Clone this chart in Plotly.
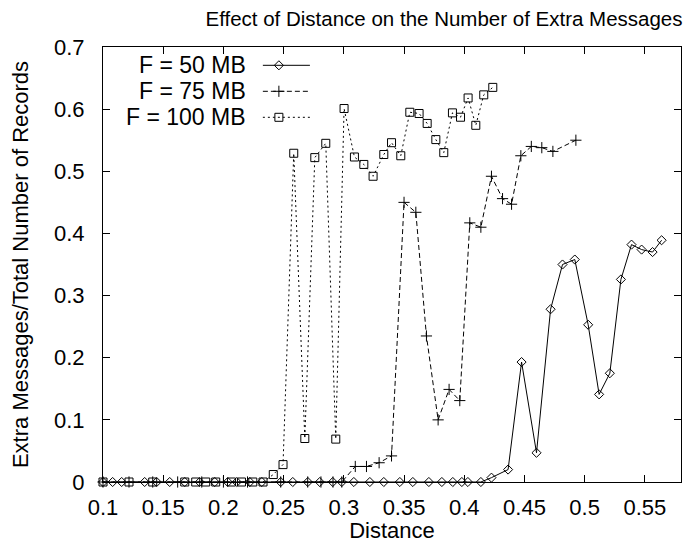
import plotly.graph_objects as go

# ---------------- data ----------------
x_50 = [0.1, 0.108, 0.1155, 0.1346, 0.1446, 0.1554, 0.1679, 0.1803, 0.1928, 0.2036, 0.2111,
        0.2219, 0.2319, 0.2476, 0.2576, 0.2701, 0.2800, 0.2908, 0.2983, 0.3083, 0.3216,
        0.3332, 0.3465, 0.3573, 0.3706, 0.3814, 0.3905, 0.3980, 0.4030, 0.4138, 0.4226,
        0.4364, 0.4476, 0.4600, 0.4717, 0.4816, 0.4918, 0.5029, 0.5120, 0.5209, 0.5301,
        0.5389, 0.5473, 0.5564, 0.5639]
y_50 = [0, 0, 0, 0, 0, 0, 0, 0, 0, 0, 0,
        0, 0, 0, 0, 0, 0, 0, 0, 0, 0,
        0, 0, 0, 0, 0, 0, 0, 0, 0, 0.007,
        0.020, 0.193, 0.047, 0.278, 0.350, 0.358, 0.253, 0.141, 0.175, 0.326,
        0.382, 0.374, 0.370, 0.389]

x_75 = [0.1, 0.1216, 0.1413, 0.162, 0.182, 0.2, 0.22, 0.2476, 0.27, 0.281, 0.291, 0.2983,
        0.3095, 0.3188, 0.3293, 0.3396, 0.3500, 0.3598, 0.3686, 0.3783, 0.3874, 0.3963,
        0.4046, 0.4138, 0.4226, 0.4318, 0.4393, 0.4470, 0.4557, 0.4644, 0.4736, 0.4927]
y_75 = [0, 0, 0, 0, 0, 0, 0, 0, 0, 0, 0, 0,
        0.025, 0.025, 0.031, 0.042, 0.450, 0.434, 0.235, 0.100, 0.149, 0.131,
        0.417, 0.410, 0.492, 0.456, 0.447, 0.525, 0.540, 0.538, 0.532, 0.550]

x_100 = [0.1, 0.1216, 0.1413, 0.1679, 0.1770, 0.1853, 0.1936, 0.2067, 0.2150, 0.2244,
         0.2329, 0.2414, 0.2495, 0.2584, 0.2676, 0.2759, 0.2850, 0.2933, 0.3002, 0.3088,
         0.3166, 0.3243, 0.3332, 0.3396, 0.3473, 0.3548, 0.3625, 0.3692, 0.3764, 0.3830,
         0.3902, 0.3969, 0.4032, 0.4096, 0.4162, 0.4237]
y_100 = [0, 0, 0, 0, 0, 0, 0, 0, 0, 0,
         0, 0.012, 0.028, 0.529, 0.070, 0.522, 0.545, 0.069, 0.601, 0.523,
         0.511, 0.492, 0.527, 0.546, 0.525, 0.595, 0.593, 0.577, 0.551, 0.530,
         0.594, 0.587, 0.618, 0.574, 0.623, 0.635]

series_names = ["F = 50 MB", "F = 75 MB", "F = 100 MB"]
x_ticks = [0.1, 0.15, 0.2, 0.25, 0.3, 0.35, 0.4, 0.45, 0.5, 0.55]
x_tick_text = ["0.1", "0.15", "0.2", "0.25", "0.3", "0.35", "0.4", "0.45", "0.5", "0.55"]
y_ticks = [0, 0.1, 0.2, 0.3, 0.4, 0.5, 0.6, 0.7]
y_tick_text = ["0", "0.1", "0.2", "0.3", "0.4", "0.5", "0.6", "0.7"]

# ---------------- geometry / styles ----------------
FONT = "Liberation Sans, Arial, Helvetica, sans-serif"
OFF = 8                      # default page body margin in the browser
W, H = 693 - OFF, 543 - OFF  # figure size so it fits in the window
# plot-area edges in page pixels
L, R, T, B = 103.3, 680.7, 46.7, 481.7
styles = [
    dict(dash="solid", symbol="diamond-open", size=7),
    dict(dash="5px,3px", symbol="cross-thin-open", size=8),
    dict(dash="2px,3px", symbol="square-open", size=8),
]

fig = go.Figure()
for xs, ys, name, st in zip([x_50, x_75, x_100], [y_50, y_75, y_100], series_names, styles):
    fig.add_trace(go.Scatter(
        x=xs, y=ys, mode="lines+markers", name=name, showlegend=False,
        cliponaxis=False,
        line=dict(color="black", width=1, dash=st["dash"]),
        marker=dict(symbol=st["symbol"], size=st["size"], color="black",
                    line=dict(color="black", width=1)),
    ))

# ---------------- gnuplot-style key (top-left, text then sample) ----------------
def fx(px):
    return (px - L) / (R - L)

def fy(py):
    return (B - py) / (B - T)

key_rows_py = [65, 91, 117]
for name, st, py in zip(series_names, styles, key_rows_py):
    fig.add_trace(go.Scatter(
        x=[fx(263), fx(310)], y=[fy(py), fy(py)], xaxis="x2", yaxis="y2",
        mode="lines", showlegend=False, hoverinfo="skip", cliponaxis=False,
        line=dict(color="black", width=1, dash=st["dash"]),
    ))
    fig.add_trace(go.Scatter(
        x=[fx(279)], y=[fy(py)], xaxis="x2", yaxis="y2",
        mode="markers", showlegend=False, hoverinfo="skip", cliponaxis=False,
        marker=dict(symbol=st["symbol"], size=st["size"], color="black",
                    line=dict(color="black", width=1)),
    ))
    fig.add_annotation(x=fx(248), y=fy(py), xref="paper", yref="paper",
                       text=name, showarrow=False, xanchor="right", yanchor="middle",
                       font=dict(family=FONT, size=23, color="black"))

axis_common = dict(
    showline=True, linecolor="black", linewidth=1, mirror="ticks",
    ticks="inside", ticklen=7, tickcolor="black", tickwidth=1,
    showgrid=False, zeroline=False,
    tickfont=dict(family=FONT, size=22, color="black"),
)

fig.update_layout(
    width=W, height=H,
    margin=dict(l=L - OFF, r=(693 - R), t=T - OFF, b=(543 - B), pad=0, autoexpand=False),
    paper_bgcolor="white", plot_bgcolor="white",
    title=dict(text="Effect of Distance on the Number of Extra Messages",
               x=(444 - OFF) / W, xanchor="center", y=1 - (19 - OFF) / H, yanchor="middle",
               font=dict(family=FONT, size=20.5, color="black")),
    xaxis=dict(range=[0.1, 0.58], tickmode="array", tickvals=x_ticks, ticktext=x_tick_text,
               ticklabelstandoff=6,
               title=dict(text="Distance", font=dict(family=FONT, size=22, color="black"),
                          standoff=0),
               **axis_common),
    yaxis=dict(range=[0, 0.7], tickmode="array", tickvals=y_ticks, ticktext=y_tick_text,
               ticklabelstandoff=13,
               title=dict(text="Extra Messages/Total Number of Records",
                          font=dict(family=FONT, size=22, color="black"), standoff=20),
               **axis_common),
    xaxis2=dict(overlaying="x", range=[0, 1], visible=False),
    yaxis2=dict(overlaying="y", range=[0, 1], visible=False),
    showlegend=False,
)

fig.write_html("out.html")
